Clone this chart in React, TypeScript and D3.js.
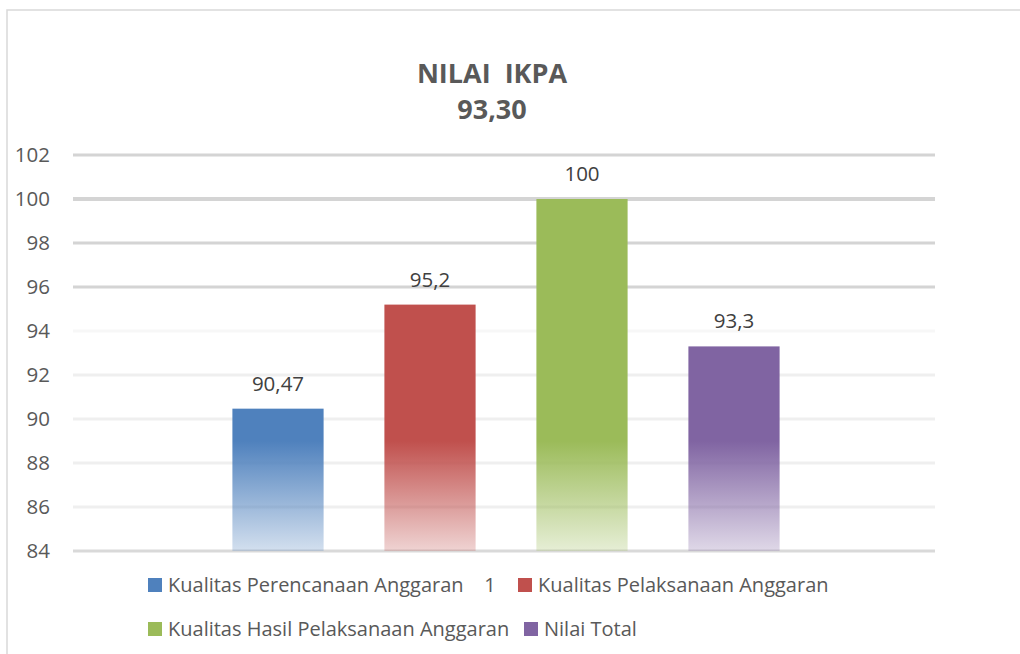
import React from 'react';
import * as d3 from 'd3';

const seriesNames = [
  'Kualitas Perencanaan Anggaran    1',
  'Kualitas Pelaksanaan Anggaran',
  'Kualitas Hasil Pelaksanaan Anggaran',
  'Nilai Total',
];
const seriesValues = [90.47, 95.2, 100, 93.3];
const valueLabels = ['90,47', '95,2', '100', '93,3'];
const seriesColors = ['#4f81bd', '#c0504d', '#9bbb59', '#8064a2'];
const yTicks = [84, 86, 88, 90, 92, 94, 96, 98, 100, 102];
const titleLines = ['NILAI  IKPA', '93,30'];

const W = 1020;
const H = 654;
const FONT = '"Open Sans", Lato, sans-serif';

export default function App() {
  const y = d3.scaleLinear().domain([84, 102]).range([551, 155]);
  const x = d3
    .scaleBand<string>()
    .domain(seriesNames)
    .range([202, 810])
    .paddingInner(0.4)
    .paddingOuter(0.2);

  const gridColor = (t: number) => {
    if (t === 84) return '#d9d9d9';
    if (t >= 96) return '#d4d4d4';
    if (t === 94) return '#f7f7f7';
    return '#efefef';
  };

  // legend layout: two rows, two items each
  const legendPos = [
    { x: 148, y: 585 },
    { x: 518, y: 585 },
    { x: 148, y: 629 },
    { x: 524, y: 629 },
  ];

  return (
    <svg
      width={W}
      height={H}
      style={{ position: 'absolute', left: 0, top: 0, background: '#fff' }}
      fontFamily={FONT}
    >
      <defs>
        {seriesColors.map((c, i) => (
          <linearGradient
            key={i}
            id={`fade${i}`}
            gradientUnits="userSpaceOnUse"
            x1={0}
            x2={0}
            y1={y(89)}
            y2={y(84)}
          >
            <stop offset="0" stopColor={c} stopOpacity={1} />
            <stop offset="1" stopColor={c} stopOpacity={0.25} />
          </linearGradient>
        ))}
      </defs>

      {/* chart border */}
      <rect x={7} y={10} width={W} height={H} fill="none" stroke="#d9d9d9" strokeWidth={1.5} />

      {/* title */}
      {titleLines.map((t, i) => (
        <text
          key={i}
          x={492}
          y={83 + i * 36}
          textAnchor="middle"
          fontSize={27}
          fontWeight="bold"
          fill="#595959"
          style={{ whiteSpace: 'pre' }}
        >
          {t}
        </text>
      ))}

      {/* gridlines */}
      {yTicks.map((t) => (
        <line
          key={t}
          x1={73}
          x2={935}
          y1={y(t)}
          y2={y(t)}
          stroke={gridColor(t)}
          strokeWidth={t === 100 ? 4 : 3}
        />
      ))}

      {/* y tick labels */}
      {yTicks.map((t) => (
        <text
          key={t}
          x={50}
          y={y(t)}
          dy="0.35em"
          textAnchor="end"
          fontSize={20.5}
          fill="#595959"
        >
          {t}
        </text>
      ))}

      {/* bars */}
      {seriesNames.map((s, i) => (
        <rect
          key={s}
          x={x(s)}
          y={y(seriesValues[i])}
          width={x.bandwidth()}
          height={y(84) - y(seriesValues[i])}
          fill={`url(#fade${i})`}
        />
      ))}

      {/* data labels */}
      {seriesNames.map((s, i) => (
        <text
          key={s}
          x={(x(s) ?? 0) + x.bandwidth() / 2}
          y={y(seriesValues[i]) - 18}
          textAnchor="middle"
          fontSize={20.5}
          fill="#404040"
        >
          {valueLabels[i]}
        </text>
      ))}

      {/* legend */}
      {seriesNames.map((s, i) => (
        <g key={s} transform={`translate(${legendPos[i].x},${legendPos[i].y})`}>
          <rect x={0} y={-7} width={14} height={14} fill={seriesColors[i]} />
          <text
            x={20}
            y={0}
            dy="0.35em"
            fontSize={20}
            fill="#595959"
            style={{ whiteSpace: 'pre' }}
          >
            {s}
          </text>
        </g>
      ))}
    </svg>
  );
}
